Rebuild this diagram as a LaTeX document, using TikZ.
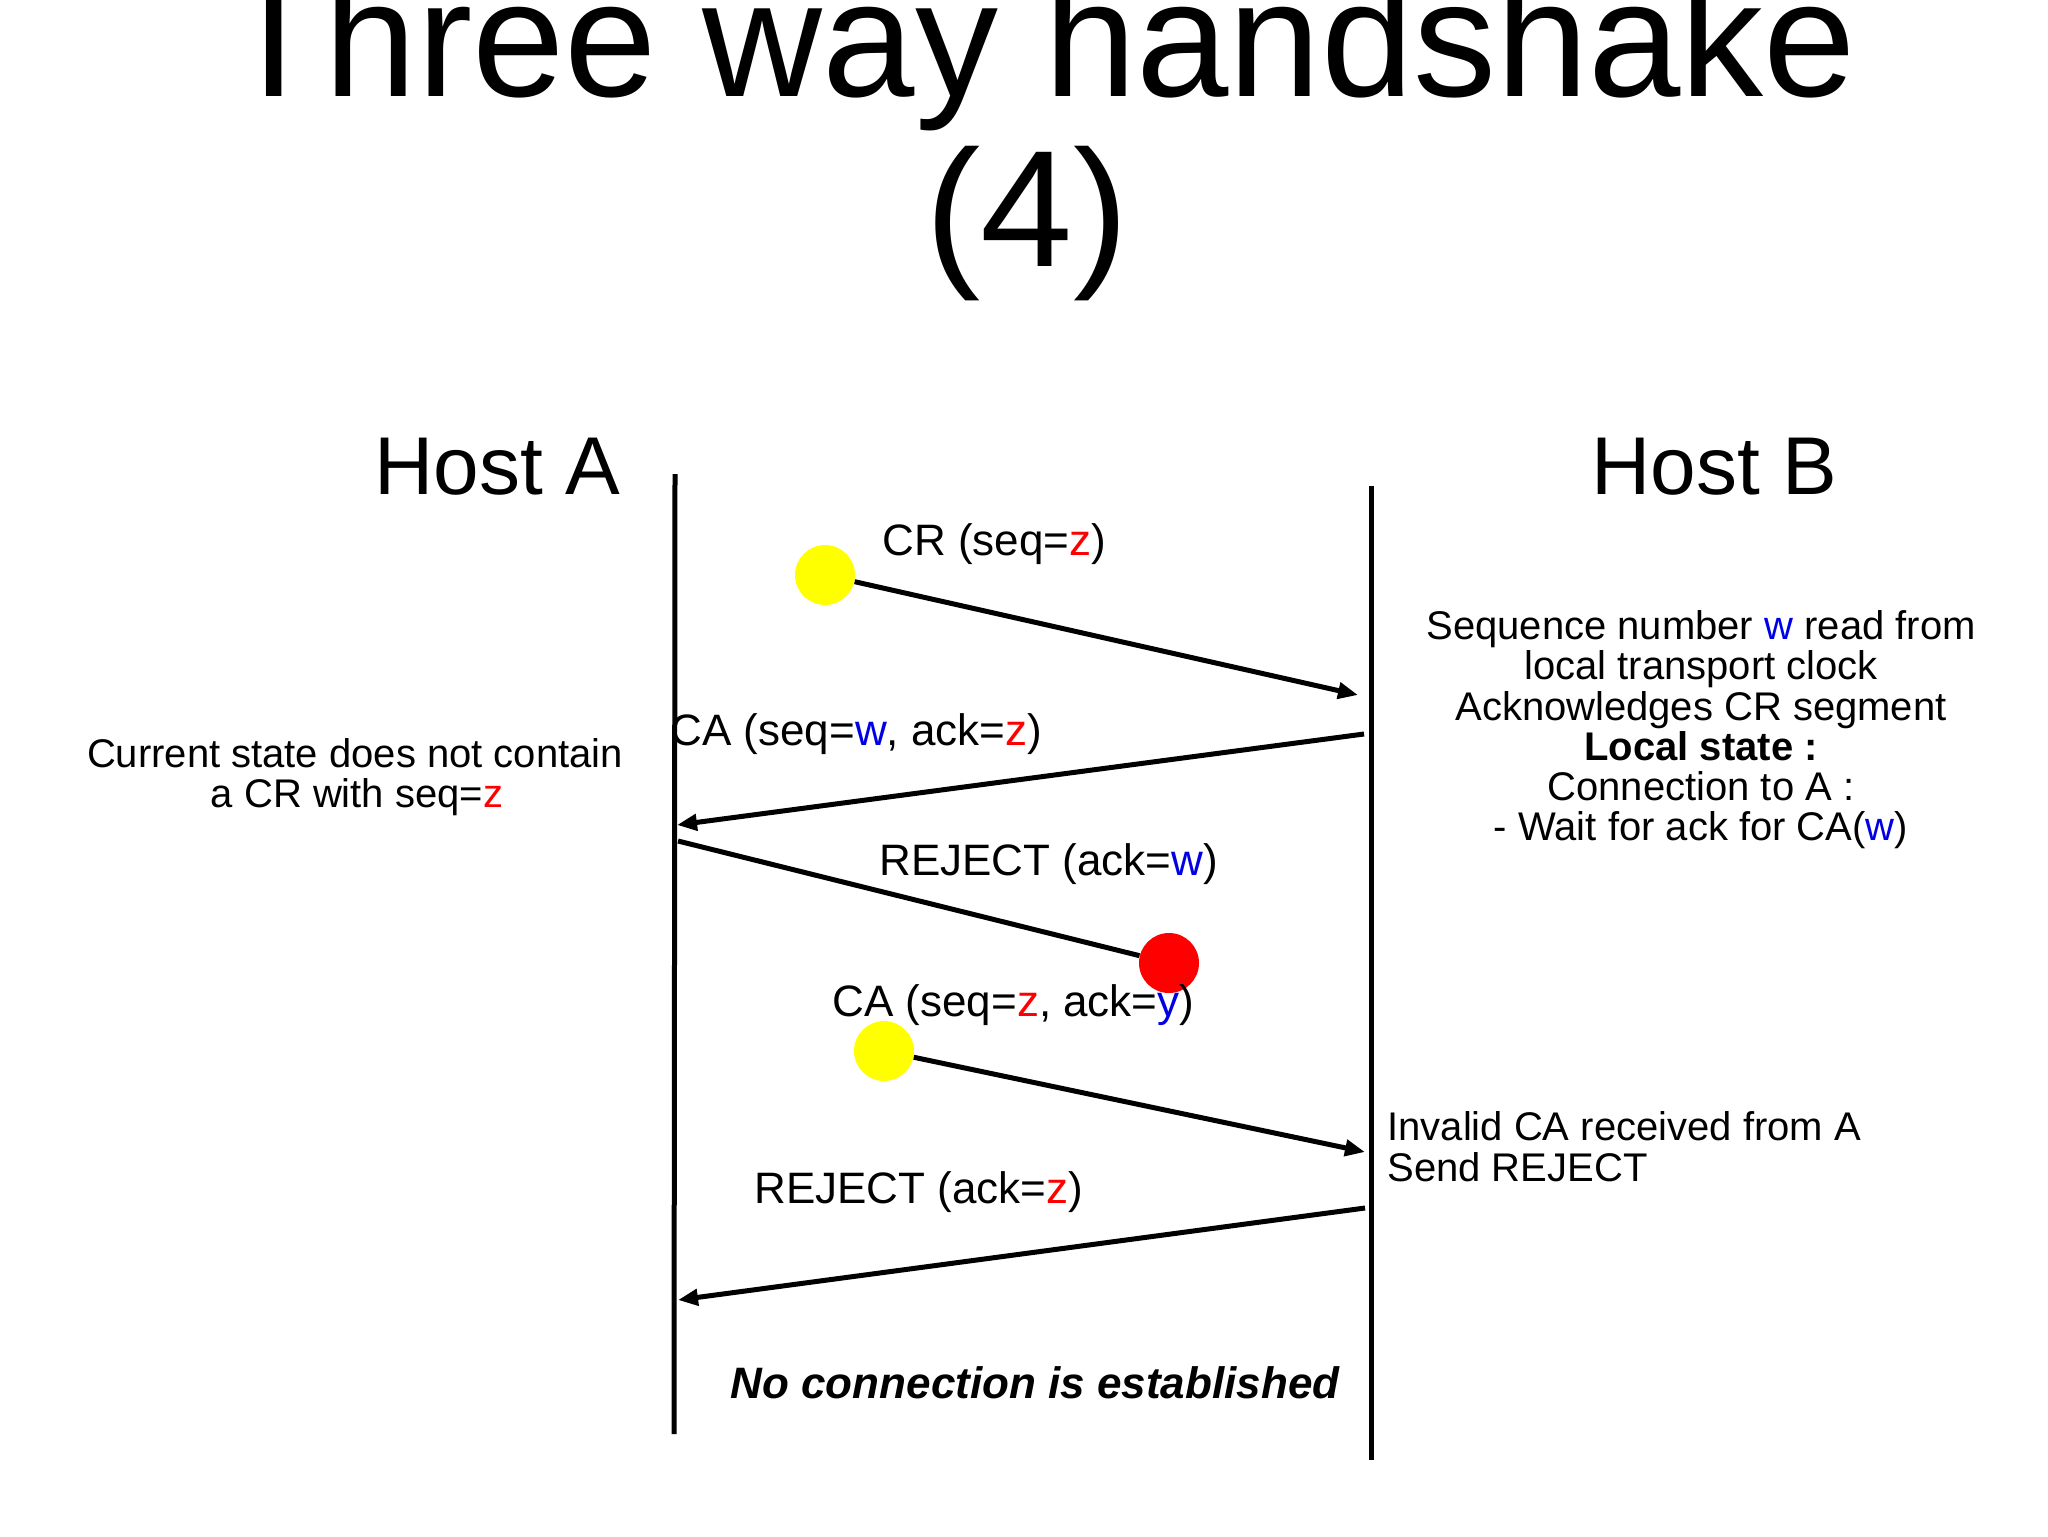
\documentclass[tikz,border=0pt]{standalone}
\usepackage{fontspec}
\setmainfont{Liberation Sans}
\usetikzlibrary{arrows.meta}
\definecolor{zred}{RGB}{255,0,0}
\definecolor{wblue}{RGB}{0,0,230}
\definecolor{dotyellow}{RGB}{255,255,0}
\newcommand\redtxt[1]{{\color{zred}#1}}
\newcommand\bluetxt[1]{{\color{wblue}#1}}
\begin{document}
\begin{tikzpicture}[x=0.5pt,y=-0.5pt,
  titletxt/.style={font=\fontsize{83}{99}\selectfont, inner sep=0, anchor=base},
  hosttxt/.style={font=\fontsize{41}{49}\selectfont, inner sep=0},
  lbl/.style={font=\fontsize{22}{26}\selectfont, inner sep=0, anchor=base west},
  note/.style={font=\fontsize{20}{24}\selectfont, inner sep=0},
  lifeline/.style={line width=2.5pt},
  msg/.style={line width=2.5pt},
  arrowmsg/.style={msg, -{Triangle[length=10pt,width=8pt]}},
  ydot/.style={circle, fill=dotyellow, minimum size=30pt, inner sep=0},
  rdot/.style={circle, fill=zred, minimum size=30pt, inner sep=0}]
\useasboundingbox (0,0) rectangle (2048,1536);
\fill[white] (0,0) rectangle (2048,1536);
\clip (0,0) rectangle (2048,1536);

% title
\node[titletxt] (title1) at (1040,97) {Three way handshake};
\node[titletxt] (title2) at (1027,266) {(4)};

% hosts
\node[hosttxt, anchor=base east] (hostA) at (621,494) {Host A};
\node[hosttxt, anchor=base west] (hostB) at (1591,494) {Host B};

% dots
\node[ydot] (d1) at (825,575) {};
\node[rdot] (d3) at (1169,963) {};
\node[ydot] (d4) at (884,1051) {};

% message labels
\node[lbl] (l1) at (882,555) {CR (seq=\redtxt{z})};
\node[lbl] (l2) at (670,745) {CA (seq=\bluetxt{w}, ack=\redtxt{z})};
\node[lbl] (l3) at (879,875) {REJECT (ack=\bluetxt{w})};
\node[lbl] (l4) at (832,1016) {CA (seq=\redtxt{z}, ack=\bluetxt{y})};
\node[lbl] (l5) at (754,1203) {REJECT (ack=\redtxt{z})};

% notes at host B
\node[note, anchor=base] (nb1) at (1701,639) {Sequence number \bluetxt{w} read from};
\node[note, anchor=base] (nb2) at (1701,679) {local transport clock};
\node[note, anchor=base] (nb3) at (1701,720) {Acknowledges CR segment};
\node[note, anchor=base, font=\fontsize{20}{24}\selectfont\bfseries] (nb4) at (1701,760) {Local state :};
\node[note, anchor=base] (nb5) at (1701,800) {Connection to A :};
\node[note, anchor=base] (nb6) at (1701,840) {- Wait for ack for CA(\bluetxt{w})};

% note at host A
\node[note, anchor=base] (na1) at (355,767) {Current state does not contain};
\node[note, anchor=base] (na2) at (357,807) {a CR with seq=\redtxt{z}};

% invalid CA note
\node[note, anchor=base west] (ni1) at (1387,1140) {Invalid CA received from A};
\node[note, anchor=base west] (ni2) at (1387,1181) {Send REJECT};

% conclusion
\node[font=\fontsize{22}{26}\selectfont\bfseries\itshape, inner sep=0, anchor=base] (concl) at (1035,1398) {No connection is established};

% lifelines
\coordinate (Atop) at (675,474);
\coordinate (Abot) at (674,1434);
\coordinate (Btop) at (1371,486);
\coordinate (Bbot) at (1371,1460);
\draw[lifeline] (Atop) -- (Abot);
\draw[lifeline] (Btop) -- (Bbot);

% messages
\coordinate (e1) at (1358,695);
\draw[arrowmsg] (d1) -- (e1);

\coordinate (s2) at (1364,734);
\coordinate (e2) at (677,825);
\draw[arrowmsg] (s2) -- (e2);

\coordinate (s3) at (678,841);
\draw[msg] (s3) -- (d3);

\coordinate (e4) at (1365,1152);
\draw[arrowmsg] (d4) -- (e4);

\coordinate (s5) at (1365,1208);
\coordinate (e5) at (678,1300);
\draw[arrowmsg] (s5) -- (e5);
\end{tikzpicture}
\end{document}
